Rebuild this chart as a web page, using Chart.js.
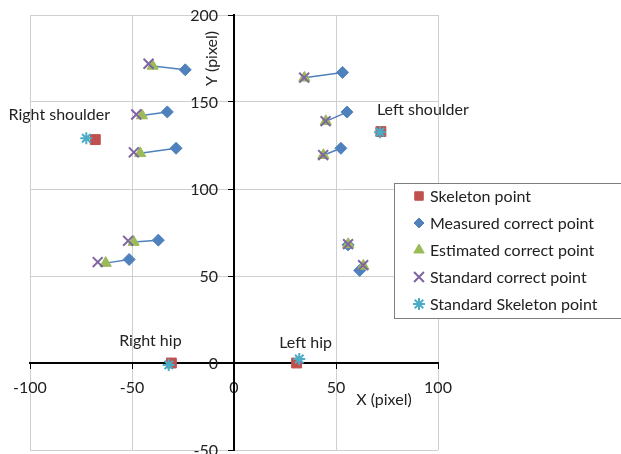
<!DOCTYPE html>
<html>
<head>
<meta charset="utf-8">
<script src="https://cdn.jsdelivr.net/npm/chart.js@4/dist/chart.umd.min.js"></script>
<style>
    html, body { margin: 0; padding: 0; background: #fff; overflow: hidden; }
    #wrap { width: 660px; height: 470px; }
</style>
</head>
<body>
<div id="wrap"><canvas id="poseChart" width="660" height="470"></canvas></div>
<script>
// skeleton joints (shoulders, hips)
const skeletonX = [-68.0, 72.0, -30.7, 30.7];
const skeletonY = [128.4, 133.0, 0.0, 0.0];
const standardSkeletonX = [-72.4, 71.6, -32.0, 32.0];
const standardSkeletonY = [129.2, 132.6, -1.1, 2.3];

// correct points
const measuredX = [-23.9, -32.7, -28.4, -37.1, -51.4, 53.2, 55.4, 52.4, 55.9, 61.6];
const measuredY = [168.5, 144.3, 123.4, 70.6, 59.5, 167.0, 144.2, 123.4, 67.9, 53.2];
const estimatedX = [-39.9, -45.1, -46.0, -49.2, -62.9, 34.5, 45.0, 43.8, 56.0, 63.4];
const estimatedY = [170.7, 142.2, 120.5, 69.5, 57.4, 163.9, 138.9, 119.4, 68.2, 55.8];
const standardX = [-41.9, -47.9, -49.1, -51.9, -66.8, 34.4, 44.9, 43.7, 55.9, 63.3];
const standardY = [172.0, 142.8, 121.1, 70.2, 58.0, 164.0, 139.0, 119.5, 68.3, 56.2];

const xTicks = [-100, -50, 0, 50, 100];
const yTicks = [-50, 0, 50, 100, 150, 200];

const jointNames = ['Right shoulder', 'Left shoulder', 'Right hip', 'Left hip'];

const FONT = 'Lato, "Open Sans", sans-serif';

function toPoints(xs, ys) {
    return xs.map((x, i) => ({ x: x, y: ys[i] }));
}

// measured -> estimated segments, split with gaps
function segmentPoints() {
    const pts = [];
    measuredX.forEach((x, i) => {
        pts.push({ x: x, y: measuredY[i] });
        pts.push({ x: estimatedX[i], y: estimatedY[i] });
        pts.push({ x: null, y: null });
    });
    return pts;
}

// pixel offsets of the joint labels from their skeleton point
const labelOffsets = [[-36, -25], [42, -22], [-21, -22], [9, -20]];

const annotationPlugin = {
    id: 'annotations',
    afterDraw(chart) {
        const ctx = chart.ctx;
        const xs = chart.scales.x, ys = chart.scales.y;
        const axisX = xs.getPixelForValue(0);
        ctx.save();
        ctx.fillStyle = '#222';
        ctx.font = '16px ' + FONT;

        // y tick labels, left of the vertical axis
        ctx.textAlign = 'right';
        ctx.textBaseline = 'middle';
        ys.ticks.forEach(t => {
            ctx.fillText(String(t.value), axisX - 16, ys.getPixelForValue(t.value) + 1);
        });

        ctx.textAlign = 'center';
        jointNames.forEach((name, i) => {
            const px = xs.getPixelForValue(skeletonX[i]) + labelOffsets[i][0];
            const py = ys.getPixelForValue(skeletonY[i]) + labelOffsets[i][1];
            ctx.fillText(name, px, py);
        });

        // axis titles
        ctx.fillText('X (pixel)', xs.getPixelForValue(73.5), ys.getPixelForValue(0) + 37);
        ctx.save();
        ctx.translate(axisX - 22, ys.getPixelForValue(175));
        ctx.rotate(-Math.PI / 2);
        ctx.fillText('Y (pixel)', 0, 0);
        ctx.restore();

        // legend box
        const lx = 394, ly = 183, lh = 135;
        ctx.fillStyle = '#fff';
        ctx.fillRect(lx, ly, 300, lh);
        ctx.strokeStyle = '#7f7f7f';
        ctx.lineWidth = 1;
        ctx.strokeRect(lx + 0.5, ly + 0.5, 300, lh);
        ctx.textAlign = 'left';
        let row = 0;
        chart.data.datasets.forEach(ds => {
            if (ds.hideInLegend) return;
            const cy = ly + 13 + row * 27;
            ctx.fillStyle = ds.backgroundColor;
            ctx.strokeStyle = ds.borderColor;
            ctx.lineWidth = ds.pointBorderWidth || 1;
            Chart.helpers.drawPoint(ctx, {
                pointStyle: ds.pointStyle,
                radius: ds.legendRadius,
                rotation: 0,
                borderWidth: ds.pointBorderWidth || 1
            }, lx + 25, cy);
            ctx.fillStyle = '#222';
            ctx.fillText(ds.label, lx + 36, cy + 1);
            row++;
        });
        ctx.restore();
    }
};

function initializeChart() {
    new Chart(document.getElementById('poseChart'), {
        type: 'scatter',
        data: {
            datasets: [{
                label: 'Skeleton point',
                data: toPoints(skeletonX, skeletonY),
                pointStyle: 'rect',
                pointRadius: 7,
                legendRadius: 6,
                backgroundColor: '#C0504D',
                borderColor: '#C0504D',
                pointBorderWidth: 1,
                order: 5
            }, {
                label: 'segments',
                hideInLegend: true,
                data: segmentPoints(),
                showLine: true,
                spanGaps: false,
                pointRadius: 0,
                borderColor: '#4F81BD',
                borderWidth: 1.5,
                order: 4
            }, {
                label: 'Measured correct point',
                data: toPoints(measuredX, measuredY),
                pointStyle: 'rectRot',
                pointRadius: 6,
                legendRadius: 5,
                backgroundColor: '#4F81BD',
                borderColor: '#4F81BD',
                pointBorderWidth: 1,
                order: 3
            }, {
                label: 'Estimated correct point',
                data: toPoints(estimatedX, estimatedY),
                pointStyle: 'triangle',
                pointRadius: 6.5,
                legendRadius: 6,
                backgroundColor: '#9BBB59',
                borderColor: '#9BBB59',
                pointBorderWidth: 1,
                order: 2
            }, {
                label: 'Standard correct point',
                data: toPoints(standardX, standardY),
                pointStyle: 'crossRot',
                pointRadius: 7,
                legendRadius: 7,
                backgroundColor: '#8064A2',
                borderColor: '#8064A2',
                pointBorderWidth: 2,
                order: 1
            }, {
                label: 'Standard Skeleton point',
                data: toPoints(standardSkeletonX, standardSkeletonY),
                pointStyle: 'star',
                pointRadius: 6,
                legendRadius: 6,
                backgroundColor: '#4BACC6',
                borderColor: '#4BACC6',
                pointBorderWidth: 2,
                order: 0
            }]
        },
        options: {
            responsive: false,
            animation: false,
            devicePixelRatio: 1,
            layout: { padding: { left: 30, top: 15, right: 222, bottom: 20 } },
            plugins: {
                legend: { display: false },
                tooltip: { enabled: false }
            },
            scales: {
                x: {
                    type: 'linear',
                    position: { y: 0 },
                    min: xTicks[0],
                    max: xTicks[xTicks.length - 1],
                    afterBuildTicks: axis => { axis.ticks = xTicks.map(v => ({ value: v })); },
                    grid: { color: '#CFCFCF', lineWidth: 1, tickLength: 5, tickColor: '#000' },
                    border: { color: '#000', width: 2 },
                    ticks: { color: '#222', font: { family: FONT, size: 16 }, padding: 10 }
                },
                y: {
                    type: 'linear',
                    position: { x: 0 },
                    min: yTicks[0],
                    max: yTicks[yTicks.length - 1],
                    afterBuildTicks: axis => { axis.ticks = yTicks.map(v => ({ value: v })); },
                    grid: { color: '#CFCFCF', lineWidth: 1, tickLength: 5, tickColor: '#000' },
                    border: { color: '#000', width: 2 },
                    ticks: { display: false }
                }
            }
        },
        plugins: [annotationPlugin]
    });
}

document.addEventListener('DOMContentLoaded', initializeChart);
</script>
</body>
</html>
